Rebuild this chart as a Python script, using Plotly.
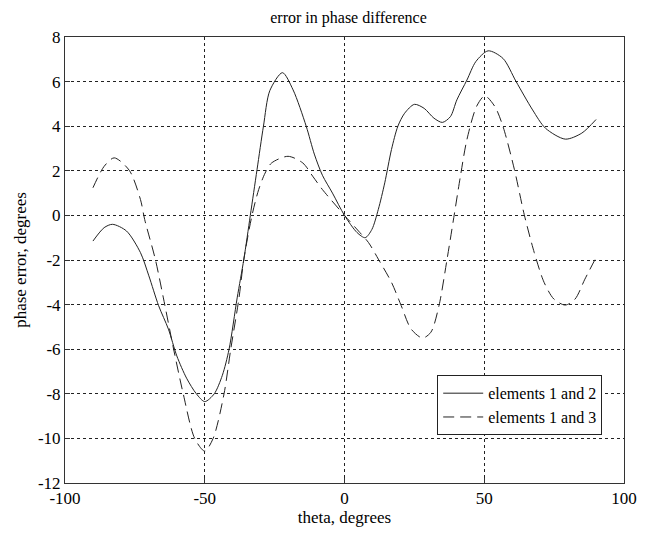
import plotly.graph_objects as go

# Data
theta_12 = [-90, -86, -83, -78, -73, -70, -66.5, -63, -60, -56.5, -53, -50, -46.6, -43.7, -41.3,
            -38.4, -36, -33.7, -31.3, -29, -26.7, -22.2, -18.4, -13.7, -10.8, -7.9, -4.3, 0,
            4.5, 7.4, 9.8, 12.1, 14.4, 16.8, 19.1, 21.5, 25, 28.5, 32, 35, 37.9, 40.2, 43.8,
            47, 51.4, 56.7, 61.4, 67.3, 71.9, 79, 84.9, 90]
err_12 = [-1.15, -0.55, -0.40, -0.70, -1.67, -2.71, -4.05, -5.1, -6.3, -7.3, -8.0, -8.35, -8.0,
          -7.17, -6.0, -3.7, -1.96, 0.0, 2.05, 4.0, 5.6, 6.4, 5.63, 4.0, 2.75, 1.8, 1.0, 0.0,
          -0.77, -1.0, -0.63, 0.27, 1.46, 2.95, 4.0, 4.58, 4.98, 4.8, 4.36, 4.17, 4.43, 5.18,
          6.07, 6.9, 7.38, 7.04, 6.0, 4.73, 3.91, 3.42, 3.69, 4.3]

theta_13 = [-90, -86, -82.4, -77, -73, -71.5, -67.7, -64.8, -61.3, -57.7, -53.6, -50, -47, -43.1,
            -40.7, -37.8, -36, -33.1, -30.7, -28.4, -26.1, -20.2, -14.9, -11.4, -7.9, 0, 5,
            8.6, 12.1, 16.8, 20.3, 23.8, 27.9, 30.9, 33.8, 36.7, 39.1, 41.4, 43.8, 47.3, 50.2,
            53.8, 56.7, 60.8, 64.3, 67.9, 71.4, 74.9, 79, 82.5, 86, 90]
err_13 = [1.24, 2.2, 2.58, 2.02, 0.71, -0.18, -1.96, -3.7, -5.9, -8.0, -10.0, -10.57, -10.0,
          -8.0, -6.0, -3.75, -1.96, 0.0, 1.16, 1.9, 2.35, 2.65, 2.35, 1.76, 1.16, 0.0, -0.7,
          -1.22, -1.96, -3.0, -4.05, -5.09, -5.5, -5.24, -4.05, -1.96, -0.1, 1.7, 3.4, 4.9,
          5.36, 4.88, 3.99, 2.05, 0.04, -1.67, -3.0, -3.75, -4.02, -3.75, -2.86, -1.89]

x_ticks = [-100, -50, 0, 50, 100]
x_tick_labels = ["-100", "-50", "0", "50", "100"]
y_ticks = [-12, -10, -8, -6, -4, -2, 0, 2, 4, 6, 8]
y_tick_labels = ["-12", "-10", "-8", "-6", "-4", "-2", "0", "2", "4", "6", "8"]

FONT = "Liberation Serif, Times New Roman, serif"

fig = go.Figure()
fig.add_trace(go.Scatter(x=theta_12, y=err_12, mode="lines", name="elements 1 and 2",
                         line=dict(color="#222222", width=1, shape="spline", smoothing=0.8)))
fig.add_trace(go.Scatter(x=theta_13, y=err_13, mode="lines", name="elements 1 and 3",
                         line=dict(color="#222222", width=1, shape="spline", smoothing=0.8,
                                   dash="11px,6px")))

axis_common = dict(
    showline=True, linecolor="#333333", linewidth=1, mirror=True,
    showgrid=True, gridcolor="#222222", gridwidth=1, griddash="3px,3px",
    zeroline=False, ticks="inside", ticklen=5, tickcolor="#333333",
    tickfont=dict(family=FONT, size=17, color="black"),
)

fig.update_layout(
    width=649, height=534,
    margin=dict(l=65, r=16, t=37, b=49),
    paper_bgcolor="white", plot_bgcolor="white",
    font=dict(family=FONT, color="black"),
    title=dict(text="error in phase difference", x=0.537, xanchor="center",
               y=1 - 17 / 534, yanchor="middle", font=dict(family=FONT, size=16)),
    xaxis=dict(range=[-100, 100], tickvals=x_ticks, ticktext=x_tick_labels,
               title=dict(text="theta, degrees", font=dict(family=FONT, size=17), standoff=2),
               **axis_common),
    yaxis=dict(range=[-12, 8], tickvals=y_ticks, ticktext=y_tick_labels,
               title=dict(text="phase error, degrees", font=dict(family=FONT, size=17), standoff=6),
               **axis_common),
    legend=dict(x=0.961, xanchor="right", y=0.107, yanchor="bottom",
                bgcolor="white", bordercolor="#222222", borderwidth=1,
                font=dict(family=FONT, size=16), tracegroupgap=0, itemwidth=40),
    showlegend=True,
)

fig.write_html("out.html")
